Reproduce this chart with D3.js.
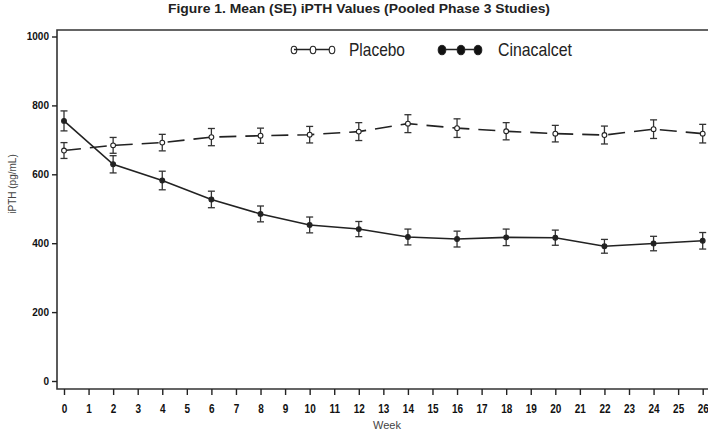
<!DOCTYPE html>
<html>
<head>
<meta charset="utf-8">
<script src="https://cdn.jsdelivr.net/npm/d3@7"></script>
<style>
  body { margin: 0; background: #fff; }
  .axis text { fill: #111; }
  .x-axis text { font-family: "Liberation Sans", Arial, sans-serif; font-weight: bold; font-size: 12.5px; }
  .y-axis text { font-family: "Liberation Sans", Arial, sans-serif; font-weight: bold; font-size: 10px; }
</style>
</head>
<body>
<div id="chart"></div>
<script>
// Mean (SE) iPTH by study week
const weeks = [0, 2, 4, 6, 8, 10, 12, 14, 16, 18, 20, 22, 24, 26];
const placeboMean = [669, 684, 692, 708, 712, 715, 724, 747, 734, 725, 718, 714, 731, 718];
const placeboSE = [23, 23, 24, 25, 22, 24, 26, 26, 27, 25, 24, 26, 27, 27];
const cinacalcetMean = [755, 629, 582, 527, 485, 453, 441, 418, 412, 417, 416, 391, 399, 407];
const cinacalcetSE = [29, 25, 27, 24, 23, 23, 22, 23, 23, 24, 22, 20, 21, 24];
const xTicks = d3.range(0, 27);
const yTicks = [0, 200, 400, 600, 800, 1000];

const width = 708, height = 430;
const frame = {left: 57, top: 30, bottom: 389, right: 708};
const narrow = '"Liberation Sans", Arial, sans-serif';

const svg = d3.select('#chart')
    .append('svg')
    .attr('width', width)
    .attr('height', height);

const xScale = d3.scaleLinear().domain([0, 26]).range([64, 702.7]);
const yScale = d3.scaleLinear().domain([0, 1000]).range([381, 36.5]);

// title (condensed look via textLength)
svg.append('text')
    .attr('x', 168)
    .attr('y', 13)
    .attr('textLength', 382)
    .attr('lengthAdjust', 'spacingAndGlyphs')
    .style('font-family', narrow)
    .style('font-weight', 'bold')
    .style('font-size', '13.5px')
    .style('fill', '#222')
    .text('Figure 1. Mean (SE) iPTH Values (Pooled Phase 3 Studies)');

// frame: top, left, bottom
svg.append('path')
    .attr('d', `M${frame.right},${frame.top}H${frame.left}V${frame.bottom}H${frame.right}`)
    .attr('fill', 'none')
    .attr('stroke', '#333')
    .attr('stroke-width', 1.6);

// axes
const xAxis = d3.axisBottom(xScale).tickValues(xTicks).tickSize(6).tickPadding(9).tickFormat(d3.format('d'));
const yAxis = d3.axisLeft(yScale).tickValues(yTicks).tickSize(5).tickPadding(3).tickFormat(d3.format('d'));

svg.append('g')
    .attr('class', 'axis x-axis')
    .attr('transform', `translate(0,${frame.bottom})`)
    .call(xAxis)
    .call(g => g.select('.domain').remove())
    .call(g => g.selectAll('line').attr('stroke', '#222').attr('stroke-width', 1.4))
    .call(g => g.selectAll('text').attr('transform', 'scale(0.8,1)'));

svg.append('g')
    .attr('class', 'axis y-axis')
    .attr('transform', `translate(${frame.left},0)`)
    .call(yAxis)
    .call(g => g.select('.domain').remove())
    .call(g => g.selectAll('line').attr('stroke', '#222').attr('stroke-width', 1.4));

// axis titles
svg.append('text')
    .attr('x', 387)
    .attr('y', 429)
    .attr('text-anchor', 'middle')
    .style('font-family', narrow)
    .style('font-size', '11px')
    .style('fill', '#444')
    .text('Week');

svg.append('text')
    .attr('transform', 'translate(16,184) rotate(-90)')
    .attr('text-anchor', 'middle')
    .style('font-family', narrow)
    .style('font-size', '10px')
    .style('fill', '#444')
    .text('iPTH (pg/mL)');

const series = [
    {name: 'Placebo', mean: placeboMean, se: placeboSE, dash: '17,9', fill: '#fff'},
    {name: 'Cinacalcet', mean: cinacalcetMean, se: cinacalcetSE, dash: null, fill: '#222'}
];

const line = d3.line()
    .x(d => xScale(d.week))
    .y(d => yScale(d.mean));

series.forEach(s => {
    const pts = weeks.map((w, i) => ({week: w, mean: s.mean[i], se: s.se[i]}));

    svg.append('path')
        .datum(pts)
        .attr('fill', 'none')
        .attr('stroke', '#222')
        .attr('stroke-width', 1.6)
        .attr('stroke-dasharray', s.dash)
        .attr('d', line);

    const bars = svg.append('g').selectAll('g')
        .data(pts)
        .join('g')
        .attr('stroke', '#333')
        .attr('stroke-width', 1.3);

    bars.append('line')
        .attr('x1', d => xScale(d.week)).attr('x2', d => xScale(d.week))
        .attr('y1', d => yScale(d.mean + d.se)).attr('y2', d => yScale(d.mean - d.se));
    bars.append('line')
        .attr('x1', d => xScale(d.week) - 3.5).attr('x2', d => xScale(d.week) + 3.5)
        .attr('y1', d => yScale(d.mean + d.se)).attr('y2', d => yScale(d.mean + d.se));
    bars.append('line')
        .attr('x1', d => xScale(d.week) - 3.5).attr('x2', d => xScale(d.week) + 3.5)
        .attr('y1', d => yScale(d.mean - d.se)).attr('y2', d => yScale(d.mean - d.se));

    svg.append('g').selectAll('circle')
        .data(pts)
        .join('circle')
        .attr('cx', d => xScale(d.week))
        .attr('cy', d => yScale(d.mean))
        .attr('r', 2.4)
        .attr('fill', s.fill)
        .attr('stroke', '#222')
        .attr('stroke-width', 1.1);
});

// legend
const legendItems = [
    {name: 'Placebo', xs: [294, 313, 332], textX: 349, textLen: 56, fill: '#fff', rx: 2.8, ry: 3.7},
    {name: 'Cinacalcet', xs: [442, 461, 478], textX: 498, textLen: 74, fill: '#111', rx: 3.8, ry: 4.8}
];
legendItems.forEach(item => {
    const g = svg.append('g');
    g.append('line')
        .attr('x1', item.xs[0]).attr('x2', item.xs[2])
        .attr('y1', 49.5).attr('y2', 49.5)
        .attr('stroke', '#222').attr('stroke-width', 1.5);
    g.selectAll('ellipse')
        .data(item.xs)
        .join('ellipse')
        .attr('cx', d => d).attr('cy', 50)
        .attr('rx', item.rx).attr('ry', item.ry)
        .attr('fill', (d, i) => i === 0 && item.fill === '#fff' ? 'none' : item.fill)
        .attr('stroke', '#222').attr('stroke-width', 1.1);
    g.append('text')
        .attr('x', item.textX)
        .attr('y', 56)
        .attr('textLength', item.textLen)
        .attr('lengthAdjust', 'spacingAndGlyphs')
        .style('font-family', narrow)
        .style('font-size', '19px')
        .style('fill', '#222')
        .text(item.name);
});
</script>
</body>
</html>
